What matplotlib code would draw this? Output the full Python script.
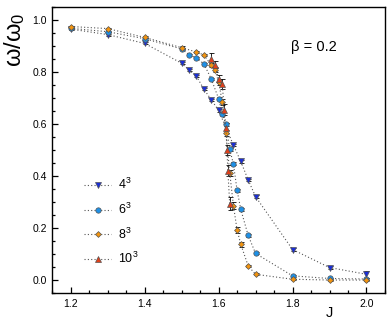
"""
omega_ratio.py
Ratio omega/omega_0 vs coupling J for several lattice sizes (beta = 0.2).
"""

import matplotlib
matplotlib.use("Agg")
import matplotlib.pyplot as plt
from matplotlib.ticker import MultipleLocator

plt.rcParams["font.family"] = ["Liberation Sans", "DejaVu Sans"]
plt.rcParams["mathtext.fontset"] = "custom"
plt.rcParams["mathtext.rm"] = "Liberation Sans"
plt.rcParams["mathtext.it"] = "Liberation Sans"

# --- data ---
J_4 = [1.20, 1.30, 1.40, 1.50, 1.52, 1.54, 1.56, 1.58, 1.60, 1.64, 1.66,
       1.68, 1.70, 1.80, 1.90, 2.00]
w_4 = [0.964, 0.943, 0.909, 0.833, 0.807, 0.783, 0.734, 0.693, 0.652,
       0.519, 0.456, 0.385, 0.321, 0.118, 0.049, 0.023]
e_4 = [0.003, 0.004, 0.004, 0.004, 0.004, 0.004, 0.004, 0.004, 0.005,
       0.005, 0.005, 0.005, 0.005, 0.005, 0.007, 0.014]

J_6 = [1.20, 1.30, 1.40, 1.50, 1.52, 1.54, 1.56, 1.58, 1.60, 1.61, 1.62,
       1.63, 1.64, 1.65, 1.66, 1.68, 1.70, 1.80, 1.90, 2.00]
w_6 = [0.967, 0.954, 0.927, 0.888, 0.866, 0.852, 0.831, 0.773, 0.697,
       0.639, 0.598, 0.502, 0.447, 0.345, 0.272, 0.172, 0.103, 0.017,
       0.007, 0.005]
e_6 = [0.003, 0.003, 0.003, 0.004, 0.004, 0.004, 0.004, 0.005, 0.006,
       0.006, 0.006, 0.006, 0.006, 0.006, 0.005, 0.004, 0.004, 0.003,
       0.002, 0.002]

J_8 = [1.20, 1.30, 1.40, 1.50, 1.54, 1.56, 1.58, 1.59, 1.60, 1.61, 1.62,
       1.63, 1.64, 1.65, 1.66, 1.68, 1.70, 1.80, 1.90, 2.00]
w_8 = [0.974, 0.966, 0.932, 0.893, 0.876, 0.865, 0.826, 0.808, 0.761,
       0.684, 0.566, 0.413, 0.287, 0.193, 0.138, 0.055, 0.023, 0.004,
       0.001, 0.001]
e_8 = [0.003, 0.003, 0.004, 0.005, 0.005, 0.005, 0.008, 0.010, 0.010,
       0.010, 0.012, 0.012, 0.012, 0.010, 0.010, 0.005, 0.004, 0.002,
       0.002, 0.002]

J_10 = [1.58, 1.59, 1.60, 1.61, 1.615, 1.62, 1.6225, 1.625, 1.63]
w_10 = [0.850, 0.828, 0.773, 0.753, 0.655, 0.585, 0.500, 0.421, 0.293]
e_10 = [0.022, 0.015, 0.015, 0.020, 0.020, 0.020, 0.020, 0.020, 0.025]

series = [
    (J_4, w_4, e_4, "v", "#1b2fd6", r"4$^3$"),
    (J_6, w_6, e_6, "o", "#1e90e6", r"6$^3$"),
    (J_8, w_8, e_8, "D", "#f29410", r"8$^3$"),
    (J_10, w_10, e_10, "^", "#e0401a", r"10$^3$"),
]

fig = plt.figure(figsize=(3.92, 3.27), dpi=100)
ax = fig.add_axes([0.1334, 0.103, 0.8486, 0.8765])

for J, w, e, mk, col, lab in series:
    ms = 3.0 if mk == "D" else 3.9
    ax.errorbar(J, w, yerr=e, fmt="none", ecolor="black", elinewidth=0.6,
                capsize=1.8, capthick=0.6, zorder=2)
    ax.plot(J, w, linestyle=(0, (1, 2)), color="#555555", linewidth=0.8,
            marker=mk, markersize=ms, markerfacecolor=col,
            markeredgecolor="#555555", markeredgewidth=0.5,
            label=lab, zorder=3)

ax.set_xlim(1.15, 2.05)
ax.set_ylim(-0.05, 1.05)
ax.xaxis.set_major_locator(MultipleLocator(0.2))
ax.xaxis.set_minor_locator(MultipleLocator(0.05))
ax.yaxis.set_major_locator(MultipleLocator(0.2))
ax.yaxis.set_minor_locator(MultipleLocator(0.05))
ax.xaxis.set_major_formatter(plt.FormatStrFormatter("%.1f"))
ax.yaxis.set_major_formatter(plt.FormatStrFormatter("%.1f"))
ax.tick_params(which="both", direction="in", top=False, right=False,
               labelsize=7.5, width=0.9)
ax.tick_params(which="major", length=4.5, pad=4)
ax.tick_params(which="minor", length=2.2)
for sp in ax.spines.values():
    sp.set_linewidth(1.0)

ax.text(0.833, -0.07, "J", transform=ax.transAxes, ha="center",
        va="center", fontsize=10.5)
fig.text(0.036, 0.878, r"$\omega/\omega_0$", rotation=90, ha="center",
         va="center", fontsize=17)
ax.text(0.785, 0.858, "β = 0.2", transform=ax.transAxes, ha="center",
        va="center", fontsize=10.5)

ax.legend(loc="lower left", bbox_to_anchor=(0.095, 0.095), frameon=False,
          fontsize=9, handlelength=2.2, handletextpad=0.5,
          labelspacing=0.75, borderaxespad=0, borderpad=0)

fig.savefig("out.png", dpi=100)
